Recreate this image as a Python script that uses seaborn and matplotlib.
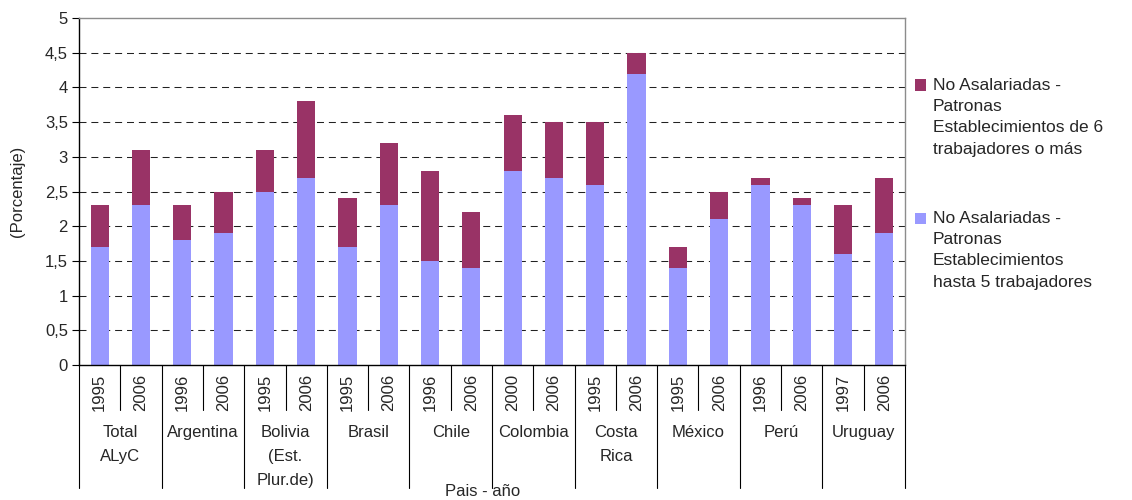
"""
Stacked bar chart: No Asalariadas - Patronas por tamaño de establecimiento
"""

import numpy as np
import pandas as pd
import matplotlib
matplotlib.use("Agg")
import matplotlib.pyplot as plt
import matplotlib.patches as mpatches
import matplotlib.transforms as mtransforms
from matplotlib.ticker import FuncFormatter, MultipleLocator
import seaborn as sns

# ---- data ----
countries = ["Total\nALyC", "Argentina", "Bolivia\n(Est.\nPlur.de)", "Brasil", "Chile",
             "Colombia", "Costa\nRica", "México", "Perú", "Uruguay"]
years = ["1995", "2006", "1996", "2006", "1995", "2006", "1995", "2006", "1996", "2006",
         "2000", "2006", "1995", "2006", "1995", "2006", "1996", "2006", "1997", "2006"]
hasta_5 = [1.7, 2.3, 1.8, 1.9, 2.5, 2.7, 1.7, 2.3, 1.5, 1.4,
           2.8, 2.7, 2.6, 4.2, 1.4, 2.1, 2.6, 2.3, 1.6, 1.9]
de_6_mas = [0.6, 0.8, 0.5, 0.6, 0.6, 1.1, 0.7, 0.9, 1.3, 0.8,
            0.8, 0.8, 0.9, 0.3, 0.3, 0.4, 0.1, 0.1, 0.7, 0.8]

label_6_mas = "No Asalariadas -\nPatronas\nEstablecimientos de 6\ntrabajadores o más"
label_5 = "No Asalariadas -\nPatronas\nEstablecimientos\nhasta 5 trabajadores"

BLUE = "#9999FF"
MAROON = "#993366"

sns.set_style("white")
plt.rcParams["font.family"] = ["Liberation Sans", "DejaVu Sans"]
FS = 12

df = pd.DataFrame({
    "bar": [f"b{i}" for i in range(len(years))],
    "hasta_5": hasta_5,
    "total": np.array(hasta_5) + np.array(de_6_mas),
})

fig = plt.figure(figsize=(11.32, 5.0), dpi=100)
ax = fig.add_axes([79 / 1132, 1 - 365 / 500, (905 - 79) / 1132, (365 - 18) / 500])

sns.barplot(data=df, x="bar", y="total", color=MAROON, saturation=1, width=0.44,
            errorbar=None, linewidth=0, ax=ax)
sns.barplot(data=df, x="bar", y="hasta_5", color=BLUE, saturation=1, width=0.44,
            errorbar=None, linewidth=0, ax=ax)

ax.set_xlim(-0.5, len(years) - 0.5)
ax.set_ylim(0, 5)
ax.yaxis.set_major_locator(MultipleLocator(0.5))
ax.yaxis.set_major_formatter(FuncFormatter(lambda v, p: f"{v:g}".replace(".", ",")))
ax.tick_params(axis="y", which="major", direction="out", length=5, width=0.8,
               color="black", labelsize=FS, pad=3, left=True)
ax.tick_params(axis="x", bottom=False, labelbottom=False)
ax.set_xlabel("")
ax.set_ylabel("(Porcentaje)", fontsize=FS, labelpad=14)

ax.set_axisbelow(True)
ax.yaxis.grid(True, color="#222222", linestyle=(0, (6.7, 4.7)), linewidth=0.75)
for gl, v in zip(ax.yaxis.get_gridlines(), ax.get_yticks()):
    if v <= 0 or v >= 5:
        gl.set_visible(False)

for side in ["left", "bottom"]:
    ax.spines[side].set_color("black")
    ax.spines[side].set_linewidth(1.0)
for side in ["top", "right"]:
    ax.spines[side].set_visible(True)
    ax.spines[side].set_color("#8c8c8c")
    ax.spines[side].set_linewidth(1.0)

# ---- category axis drawn as a two-level table ----
trans = mtransforms.blended_transform_factory(ax.transData, ax.transAxes)
ax_h = 365 - 18
short_y = -(410 - 365) / ax_h
long_y = -(488 - 365) / ax_h
year_y = -(392 - 365) / ax_h
country_y = -(425 - 365) / ax_h

for i, yr in enumerate(years):
    ax.text(i, year_y, yr, transform=trans, rotation=90, ha="center", va="center",
            fontsize=FS)
for k in range(len(countries)):
    ax.plot([2 * k + 0.5, 2 * k + 0.5], [0, short_y], transform=trans, color="black",
            linewidth=0.8, clip_on=False)
for k in range(len(countries) + 1):
    ax.plot([2 * k - 0.5, 2 * k - 0.5], [0, long_y], transform=trans, color="black",
            linewidth=0.8, clip_on=False)
for k, name in enumerate(countries):
    ax.text(2 * k + 0.5, country_y, name, transform=trans, ha="center", va="top",
            fontsize=FS, linespacing=1.75)

fig.text(483 / 1132, 1 - 492 / 500, "Pais - año", ha="center", va="center", fontsize=FS)

# ---- legend (patch aligned with first line of each label) ----
for col, lab, yc in [(MAROON, label_6_mas, 85), (BLUE, label_5, 218)]:
    fig.patches.append(mpatches.Rectangle((915 / 1132, 1 - (yc + 5.5) / 500), 11 / 1132, 11 / 500,
                                          transform=fig.transFigure, facecolor=col,
                                          edgecolor="none"))
    fig.text(933 / 1132, 1 - (yc - 7) / 500, lab, ha="left", va="top", fontsize=12.5,
             linespacing=1.52)

fig.savefig("out.png", dpi=100)
